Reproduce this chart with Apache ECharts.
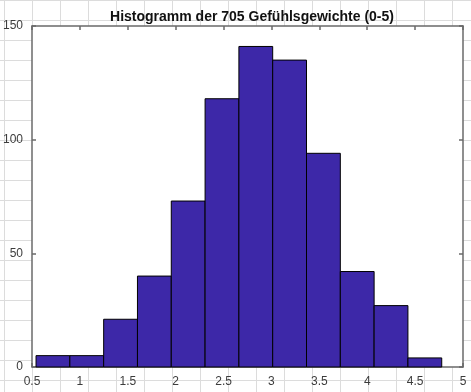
<!DOCTYPE html>
<html>
<head>
<meta charset="utf-8">
<script src="https://cdn.jsdelivr.net/npm/echarts@6/dist/echarts.min.js"></script>
<style>
html, body { margin: 0; padding: 0; }
body {
  width: 471px; height: 392px; overflow: hidden;
  background-color: #ffffff;
  background-image:
    linear-gradient(to right, #dcdcdc 1px, transparent 1px),
    linear-gradient(to bottom, #dcdcdc 1px, transparent 1px);
  background-size: 28px 20px;
  background-position: 4px 0px;
}
#chart { width: 471px; height: 392px; }
</style>
</head>
<body>
<div id="chart"></div>
<script>
// Data
const titleText = 'Histogramm der 705 Gefühlsgewichte (0-5)';
const binEdges = [0.542, 0.895, 1.248, 1.601, 1.954, 2.307, 2.660, 3.013, 3.366, 3.719, 4.072, 4.425, 4.778];
const counts = [5, 5, 21, 40, 73, 118, 141, 135, 94, 42, 27, 4];
const xTicks = [0.5, 1, 1.5, 2, 2.5, 3, 3.5, 4, 4.5, 5];
const yTicks = [0, 50, 100, 150];

const barData = counts.map((c, i) => [binEdges[i], binEdges[i + 1], c]);

const chart = echarts.init(document.getElementById('chart'), null, { renderer: 'canvas' });

const axisLineStyle = { color: '#6a6a6a', width: 1.5 };
const labelStyle = { color: '#3c3c3c', fontFamily: 'Liberation Sans, Arial, sans-serif', fontSize: 12 };

const xCommon = {
  type: 'value',
  min: xTicks[0],
  max: xTicks[xTicks.length - 1],
  interval: 0.5,
  splitLine: { show: false },
  axisLine: { show: true, onZero: false, lineStyle: axisLineStyle },
  axisTick: { show: true, inside: true, length: 4, lineStyle: axisLineStyle }
};
const yCommon = {
  type: 'value',
  min: yTicks[0],
  max: yTicks[yTicks.length - 1],
  interval: 50,
  splitLine: { show: false },
  axisLine: { show: true, onZero: false, lineStyle: axisLineStyle },
  axisTick: { show: true, inside: true, length: 4, lineStyle: axisLineStyle }
};

chart.setOption({
  backgroundColor: 'transparent',
  animation: false,
  title: {
    text: titleText,
    left: 247,
    textAlign: 'center',
    top: 5,
    textStyle: { color: '#111', fontFamily: 'Liberation Sans, Arial, sans-serif', fontSize: 14, fontWeight: 'bold' }
  },
  grid: {
    left: 31, right: 8, top: 26, bottom: 25,
    show: true, backgroundColor: '#ffffff', borderWidth: 0
  },
  xAxis: [
    Object.assign({}, xCommon, { position: 'bottom', axisLabel: Object.assign({ margin: 9 }, labelStyle) }),
    Object.assign({}, xCommon, { position: 'top', axisLabel: { show: false } })
  ],
  yAxis: [
    Object.assign({}, yCommon, { position: 'left', axisLabel: Object.assign({ margin: 9 }, labelStyle) }),
    Object.assign({}, yCommon, { position: 'right', axisLabel: { show: false } })
  ],
  series: [{
    type: 'custom',
    xAxisIndex: 0,
    yAxisIndex: 0,
    data: barData,
    encode: { x: [0, 1], y: 2 },
    renderItem: function (params, api) {
      const p0 = api.coord([api.value(0), api.value(2)]);
      const p1 = api.coord([api.value(1), 0]);
      return {
        type: 'rect',
        shape: { x: p0[0], y: p0[1], width: p1[0] - p0[0], height: p1[1] - p0[1] },
        style: { fill: '#3d28a8', stroke: '#000000', lineWidth: 1 }
      };
    },
    z: 1
  }]
});
</script>
</body>
</html>
